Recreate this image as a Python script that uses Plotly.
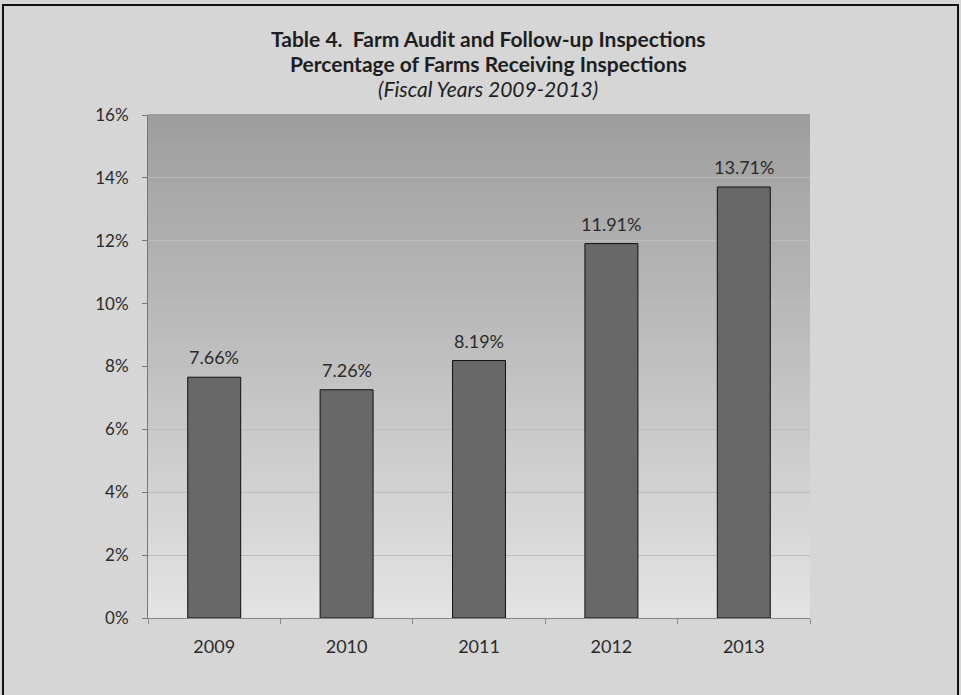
import plotly.graph_objects as go

years = ["2009", "2010", "2011", "2012", "2013"]
pct_values = [7.66, 7.26, 8.19, 11.91, 13.71]
pct_labels = ["7.66%", "7.26%", "8.19%", "11.91%", "13.71%"]
y_ticks = [0, 2, 4, 6, 8, 10, 12, 14, 16]
y_tick_text = ["0%", "2%", "4%", "6%", "8%", "10%", "12%", "14%", "16%"]
title_lines = [
    "<b>Table 4.  Farm Audit and Follow-up Inspections</b>",
    "<b>Percentage of Farms Receiving Inspections</b>",
    "<i>(Fiscal Years 2009-2013)</i>",
]

W, H = 961, 695
L, R, T, B = 148, 151, 115, 77
pw, ph = W - L - R, H - T - B

FONT = "Lato"
TXT = "#2b2b2b"

idx = list(range(len(years)))

fig = go.Figure()
fig.add_trace(go.Bar(
    x=idx, y=pct_values,
    width=0.4,
    marker=dict(color="#686868", line=dict(color="#111111", width=1)),
    hoverinfo="skip",
))

# data labels
for i, v, t in zip(idx, pct_values, pct_labels):
    fig.add_annotation(x=i, y=v, xref="x", yref="y", text=t, showarrow=False,
                       yanchor="bottom", yshift=7,
                       font=dict(family=FONT, size=18, color=TXT))

# gradient background of plot area
n = 60
top = (0x9e, 0x9e, 0x9e)
bot = (0xe3, 0xe3, 0xe3)
shapes = []
for i in range(n):
    f = i / (n - 1)
    c = tuple(int(round(bot[k] + (top[k] - bot[k]) * f)) for k in range(3))
    shapes.append(dict(type="rect", xref="paper", yref="paper",
                       x0=0, x1=1, y0=i / n, y1=(i + 1) / n + 0.002,
                       fillcolor="rgb(%d,%d,%d)" % c, line=dict(width=0),
                       layer="below"))

# outer frame
shapes.append(dict(type="rect", xref="paper", yref="paper",
                   x0=(3 - L) / pw, x1=(958 - L) / pw,
                   y0=(T + ph - 705) / ph, y1=(T + ph - 5) / ph,
                   line=dict(color="#111111", width=2), fillcolor="rgba(0,0,0,0)",
                   layer="above"))

# title
shifts = [77, 52, 27]
for line, s in zip(title_lines, shifts):
    fig.add_annotation(xref="paper", yref="paper", x=(488 - L) / pw, y=1,
                       yanchor="middle", yshift=s, showarrow=False, text=line,
                       font=dict(family=FONT, size=21, color="#1e1e1e"))

fig.update_layout(
    width=W, height=H,
    margin=dict(l=L, r=R, t=T, b=B, autoexpand=False),
    paper_bgcolor="#d6d6d6",
    plot_bgcolor="rgba(0,0,0,0)",
    shapes=shapes,
    showlegend=False,
    xaxis=dict(
        range=[-0.5, 4.5],
        tickvals=idx, ticktext=years,
        showline=True, linecolor="#888888", linewidth=1,
        ticks="", automargin=False,
        tickfont=dict(family=FONT, size=18, color=TXT),
        ticklabelstandoff=12,
        showgrid=False, zeroline=False,
        minor=dict(tickvals=[i + 0.5 for i in idx[:-1]] + [-0.5, 4.5],
                   ticks="outside", ticklen=5, tickcolor="#888888",
                   showgrid=False),
    ),
    yaxis=dict(
        range=[0, 16],
        tickvals=y_ticks, ticktext=y_tick_text,
        showline=True, linecolor="#777777", linewidth=1,
        ticks="outside", ticklen=5, tickcolor="#777777",
        tickfont=dict(family=FONT, size=17, color=TXT),
        ticklabelstandoff=10, automargin=False,
        showgrid=True, gridcolor="#bcbcbc", gridwidth=1,
        zeroline=False,
    ),
)

fig.write_html("out.html",
               config={"displayModeBar": False},
               post_script="document.body.style.margin='0';document.body.style.overflow='hidden';")
